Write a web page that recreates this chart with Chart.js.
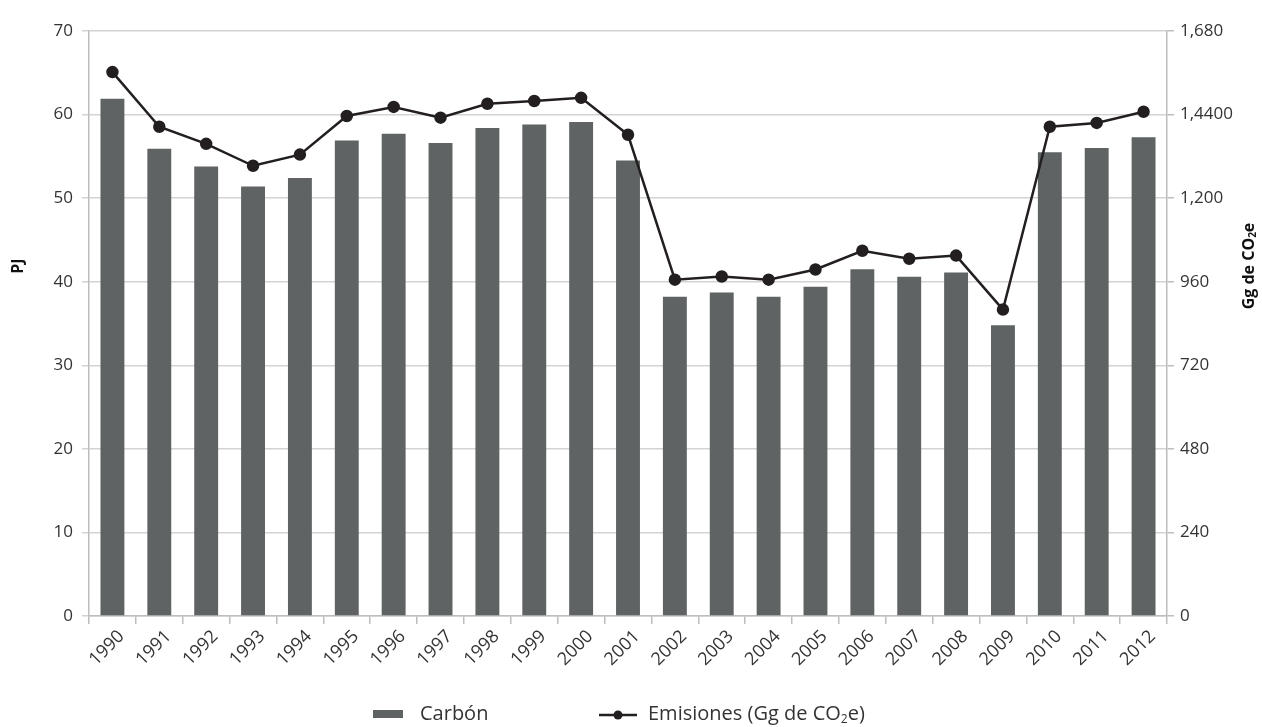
<!DOCTYPE html>
<html>
<head>
<meta charset="utf-8">
<script src="https://cdn.jsdelivr.net/npm/chart.js@4"></script>
<style>
html,body{margin:0;padding:0;background:#fff;}
#wrap{position:relative;width:1262px;height:727px;}
</style>
</head>
<body>
<div id="wrap"><canvas id="c" width="1262" height="727"></canvas></div>
<script>
const years = ['1990','1991','1992','1993','1994','1995','1996','1997','1998','1999','2000','2001','2002','2003','2004','2005','2006','2007','2008','2009','2010','2011','2012'];
const carbonPJ = [61.9,55.9,53.8,51.4,52.4,56.9,57.7,56.6,58.4,58.8,59.1,54.5,38.2,38.7,38.2,39.4,41.5,40.6,41.1,34.8,55.5,56.0,57.3];
const emisiones = [1562,1405,1356,1293,1325,1436,1462,1431,1471,1479,1488,1382,966,975,966,995,1049,1026,1035,880,1405,1416,1448];
const rightTickLabels = ['0','240','480','720','960','1,200','1,4400','1,680'];
const seriesNames = ['Carbón','Emisiones (Gg de CO|2|e)'];
const axisTitles = ['PJ','Gg de CO|2|e'];

const FONT = '"Open Sans", "Noto Sans", sans-serif';
const TXT = '#333333';
const GRID = '#d3d3d3';
const AXIS = '#bdbdbd';
const BAR = '#5f6363';
const LINE = '#231f20';

// draws text with "|2|" rendered as subscript; returns width
function subText(ctx, str, x, y, size, weight, doDraw){
  const parts = str.split('|');
  let cx = x;
  parts.forEach((p, i) => {
    const sub = i % 2 === 1;
    const fs = sub ? Math.round(size * 0.62) : size;
    ctx.font = weight + ' ' + fs + 'px ' + FONT;
    if (doDraw) ctx.fillText(p, cx, sub ? y + size * 0.28 : y);
    cx += ctx.measureText(p).width;
  });
  return cx - x;
}

const decor = {
  id: 'decor',
  afterDraw(chart){
    const ctx = chart.ctx;
    const cy = 266;
    ctx.save();
    ctx.fillStyle = '#111';
    ctx.textBaseline = 'middle';
    ctx.textAlign = 'left';
    // left title
    ctx.save();
    ctx.translate(18, cy);
    ctx.rotate(-Math.PI/2);
    let w = subText(ctx, axisTitles[0], 0, 0, 16, 'bold', false);
    subText(ctx, axisTitles[0], -w/2, 0, 16, 'bold', true);
    ctx.restore();
    // right title
    ctx.save();
    ctx.translate(1249, cy);
    ctx.rotate(-Math.PI/2);
    w = subText(ctx, axisTitles[1], 0, 0, 16, 'bold', false);
    subText(ctx, axisTitles[1], -w/2, 0, 16, 'bold', true);
    ctx.restore();
    // legend
    const ly = 714;
    ctx.fillStyle = BAR;
    ctx.fillRect(373, ly - 4, 30, 8);
    ctx.fillStyle = TXT;
    subText(ctx, seriesNames[0], 420, ly, 20, 'normal', true);
    ctx.strokeStyle = LINE; ctx.lineWidth = 2.5;
    ctx.beginPath(); ctx.moveTo(599, ly + 1); ctx.lineTo(637, ly + 1); ctx.stroke();
    ctx.fillStyle = LINE;
    ctx.beginPath(); ctx.arc(618, ly + 1, 4.5, 0, Math.PI*2); ctx.fill();
    ctx.fillStyle = TXT;
    subText(ctx, seriesNames[1], 648, ly, 20, 'normal', true);
    ctx.restore();
  }
};

new Chart(document.getElementById('c'), {
  data: {
    labels: years,
    datasets: [
      {type:'line', label: seriesNames[1], data: emisiones, yAxisID:'y2', borderColor: LINE, backgroundColor: LINE,
       borderWidth: 2.5, pointRadius: 5, pointBackgroundColor: LINE, pointBorderColor: LINE, tension: 0, order: 0},
      {type:'bar', label: seriesNames[0], data: carbonPJ, yAxisID:'y', backgroundColor: BAR,
       categoryPercentage: 0.51, barPercentage: 1.0, order: 1}
    ]
  },
  plugins: [decor],
  options: {
    responsive: false,
    animation: false,
    devicePixelRatio: 1,
    layout: {padding: {top: 31, right: 0, left: 0, bottom: 41}},
    plugins: {
      tooltip: {enabled: false},
      legend: {display: false}
    },
    scales: {
      x: {
        offset: true,
        grid: {offset: true, drawOnChartArea: false, color: AXIS, tickLength: 8, lineWidth: 1.5},
        border: {color: AXIS, width: 1.5},
        ticks: {maxRotation: 45, minRotation: 45, font: {family: FONT, size: 18}, color: TXT, padding: 2, labelOffset: 9},
        afterFit: (s) => { s.height = 70; }
      },
      y: {
        position: 'left', min: 0, max: 70,
        ticks: {stepSize: 10, font: {family: FONT, size: 17}, color: TXT, padding: 9},
        grid: {color: GRID, tickLength: 7, lineWidth: 1.5},
        border: {color: AXIS, width: 1.5},
        afterFit: (s) => { s.width = 89; }
      },
      y2: {
        position: 'right', min: 0, max: 1680,
        ticks: {stepSize: 240, font: {family: FONT, size: 17}, color: TXT, padding: 6,
          callback: (v, i) => rightTickLabels[i]},
        grid: {drawOnChartArea: false, color: AXIS, tickLength: 7, lineWidth: 1.5},
        border: {color: AXIS, width: 1.5},
        afterFit: (s) => { s.width = 95; }
      }
    }
  }
});
</script>
</body>
</html>
